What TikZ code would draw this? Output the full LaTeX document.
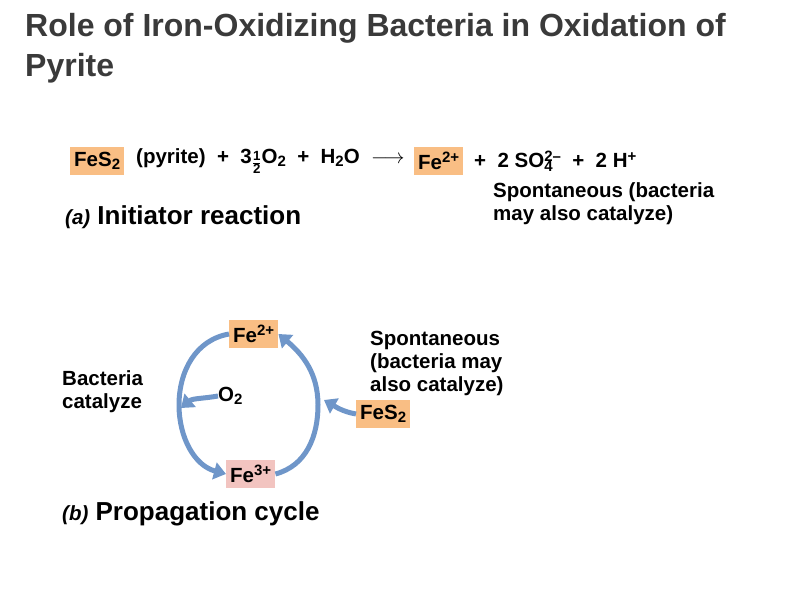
\documentclass[tikz,border=0pt]{standalone}
\usepackage{fontspec}
\setmainfont{Liberation Sans}
\usetikzlibrary{arrows.meta}
\definecolor{org}{HTML}{F9BE84}
\definecolor{pnk}{HTML}{F2C4C0}
\definecolor{arr}{HTML}{6F96C9}
\definecolor{ttl}{HTML}{3A3A3A}
\newcommand{\sbs}[1]{\raisebox{-0.3ex}{\fontsize{15}{15}\selectfont #1}}
\newcommand{\sps}[1]{\raisebox{0.6ex}{\fontsize{15}{15}\selectfont #1}}
\newcommand{\sbsp}[2]{\rlap{\sbs{#1}}\sps{#2}}
\tikzset{t/.style={font=\bfseries\fontsize{20.5}{23}\selectfont, inner sep=0pt, anchor=west},
 box/.style={t, inner xsep=4pt, inner ysep=5pt, fill=org},
 hd/.style={anchor=west, inner sep=0pt, font=\bfseries\fontsize{26}{28}\selectfont},
 cyc/.style={line width=5pt, draw=arr, -{Triangle[length=12pt,width=17pt]}}}
\begin{document}
\begin{tikzpicture}[x=1pt,y=-1pt]
\useasboundingbox (0,0) rectangle (792,612);
\node[anchor=north west, align=left, text=ttl, font=\bfseries\fontsize{32}{40}\selectfont, inner sep=0pt] (title) at (25,13) {Role of Iron-Oxidizing Bacteria in Oxidation of\\Pyrite};
\node[box] (fes2a) at (70,161) {FeS\sbs{2}};
\node[t] (eq1) at (136,161) {(pyrite) \ + \ 3\raisebox{-0.35ex}{\fontsize{19}{19}\selectfont$\mathbf{\frac{1}{2}}$}O\sbs{2} \ + \ H\sbs{2}O \ {\fontfamily{lmr}\selectfont$\longrightarrow$}};
\node[box] (fe2a) at (414,161) {Fe\sps{2+}};
\node[t] (eq2) at (474,161) {+ \ 2 SO\sbsp{4}{2--} \ + \ 2 H\sps{+}};
\node[t, align=left, anchor=north west] (spa) at (493,182) {Spontaneous (bacteria\\may also catalyze)};
\node[hd] (ia) at (65,217) {{\itshape\fontsize{20.5}{22}\selectfont(a)} Initiator reaction};
\node[box] (fe2) at (229,334) {Fe\sps{2+}};
\node[box, fill=pnk] (fe3) at (226,474) {Fe\sps{3+}};
\node[box] (fes2) at (356,414) {FeS\sbs{2}};
\node[t] (o2) at (218,396) {O\sbs{2}};
\node[t, align=left] (bc) at (62,392) {Bacteria\\catalyze};
\node[t, align=left, anchor=north west] (spb) at (370,331) {Spontaneous\\(bacteria may\\also catalyze)};
\node[hd] (pc) at (62,514) {{\itshape\fontsize{20.5}{22}\selectfont(b)} Propagation cycle};
\draw[cyc] (fe2.west) to[out=190,in=90] (179,405) to[out=270,in=165] (fe3.west);
\draw[cyc] (fe3.east) to[out=15,in=270] (318,405) to[out=90,in=-40] (fe2.east);
\draw[cyc] (o2.west) to[out=190,in=40] (181,408);
\draw[cyc] (fes2.west) to[out=170,in=-30] (324,400);
\end{tikzpicture}
\end{document}
